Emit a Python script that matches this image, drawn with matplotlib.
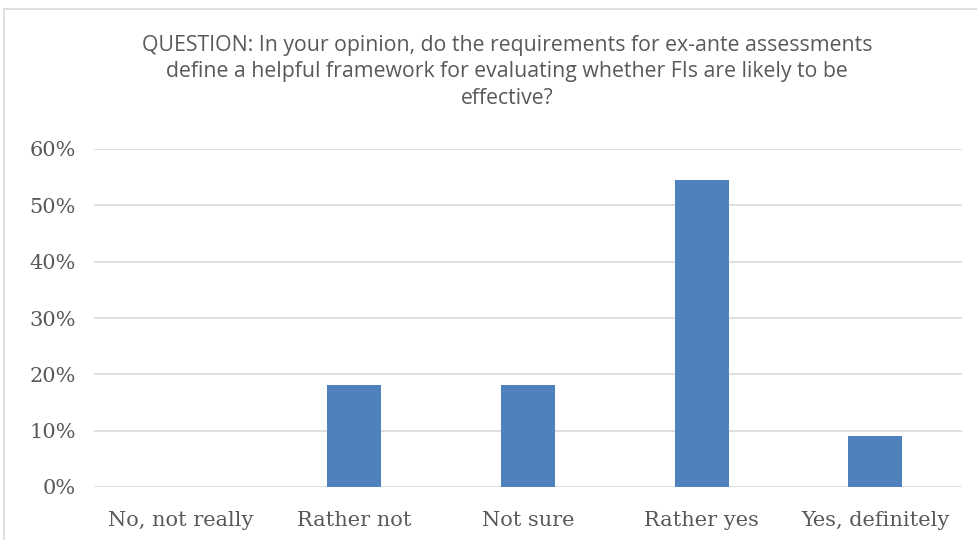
import matplotlib.pyplot as plt
from matplotlib.patches import Rectangle
from matplotlib.ticker import FuncFormatter

# Survey answers and share of respondents
answers = ['No, not really', 'Rather not', 'Not sure', 'Rather yes', 'Yes, definitely']
shares = [0.0, 0.1818, 0.1818, 0.5455, 0.0909]

title = ('QUESTION: In your opinion, do the requirements for ex-ante assessments\n'
         'define a helpful framework for evaluating whether FIs are likely to be\n'
         'effective?')

W, H = 977, 540
fig = plt.figure(figsize=(W / 100, H / 100), dpi=100)

# chart frame (light grey border, runs off the right and bottom edges)
fig.patches.append(Rectangle((4 / W, -0.05), 1.1, (H - 9) / H + 0.05,
                             transform=fig.transFigure, fill=False,
                             edgecolor='#d9d9d9', linewidth=1.2))

ax = fig.add_axes([94 / W, (H - 487) / H, (962 - 94) / W, (487 - 149) / H])

x = range(len(answers))
ax.bar(x, shares, width=0.31, color='#4f81bd', zorder=3)

ax.set_ylim(0, 0.6)
ax.set_xlim(-0.5, len(answers) - 0.5)
ax.set_yticks([i / 10 for i in range(7)])
ax.yaxis.set_major_formatter(FuncFormatter(lambda v, p: f'{v * 100:.0f}%'))
ax.grid(axis='y', color='#d9d9d9', linewidth=1.2, zorder=0)
ax.set_xticks(list(x))
ax.set_xticklabels(answers)

for s in ax.spines.values():
    s.set_visible(False)
ax.tick_params(length=0, labelcolor='#595959', pad=13)
ax.tick_params(axis='x', pad=17)
for lbl in ax.get_xticklabels() + ax.get_yticklabels():
    lbl.set_fontfamily('DejaVu Serif')
    lbl.set_fontsize(15)

fig.text(507 / W, 1 - 72 / H, title, ha='center', va='center',
         fontsize=15.3, color='#595959', family='Open Sans', linespacing=1.32)

fig.savefig('out.png', dpi=100)
